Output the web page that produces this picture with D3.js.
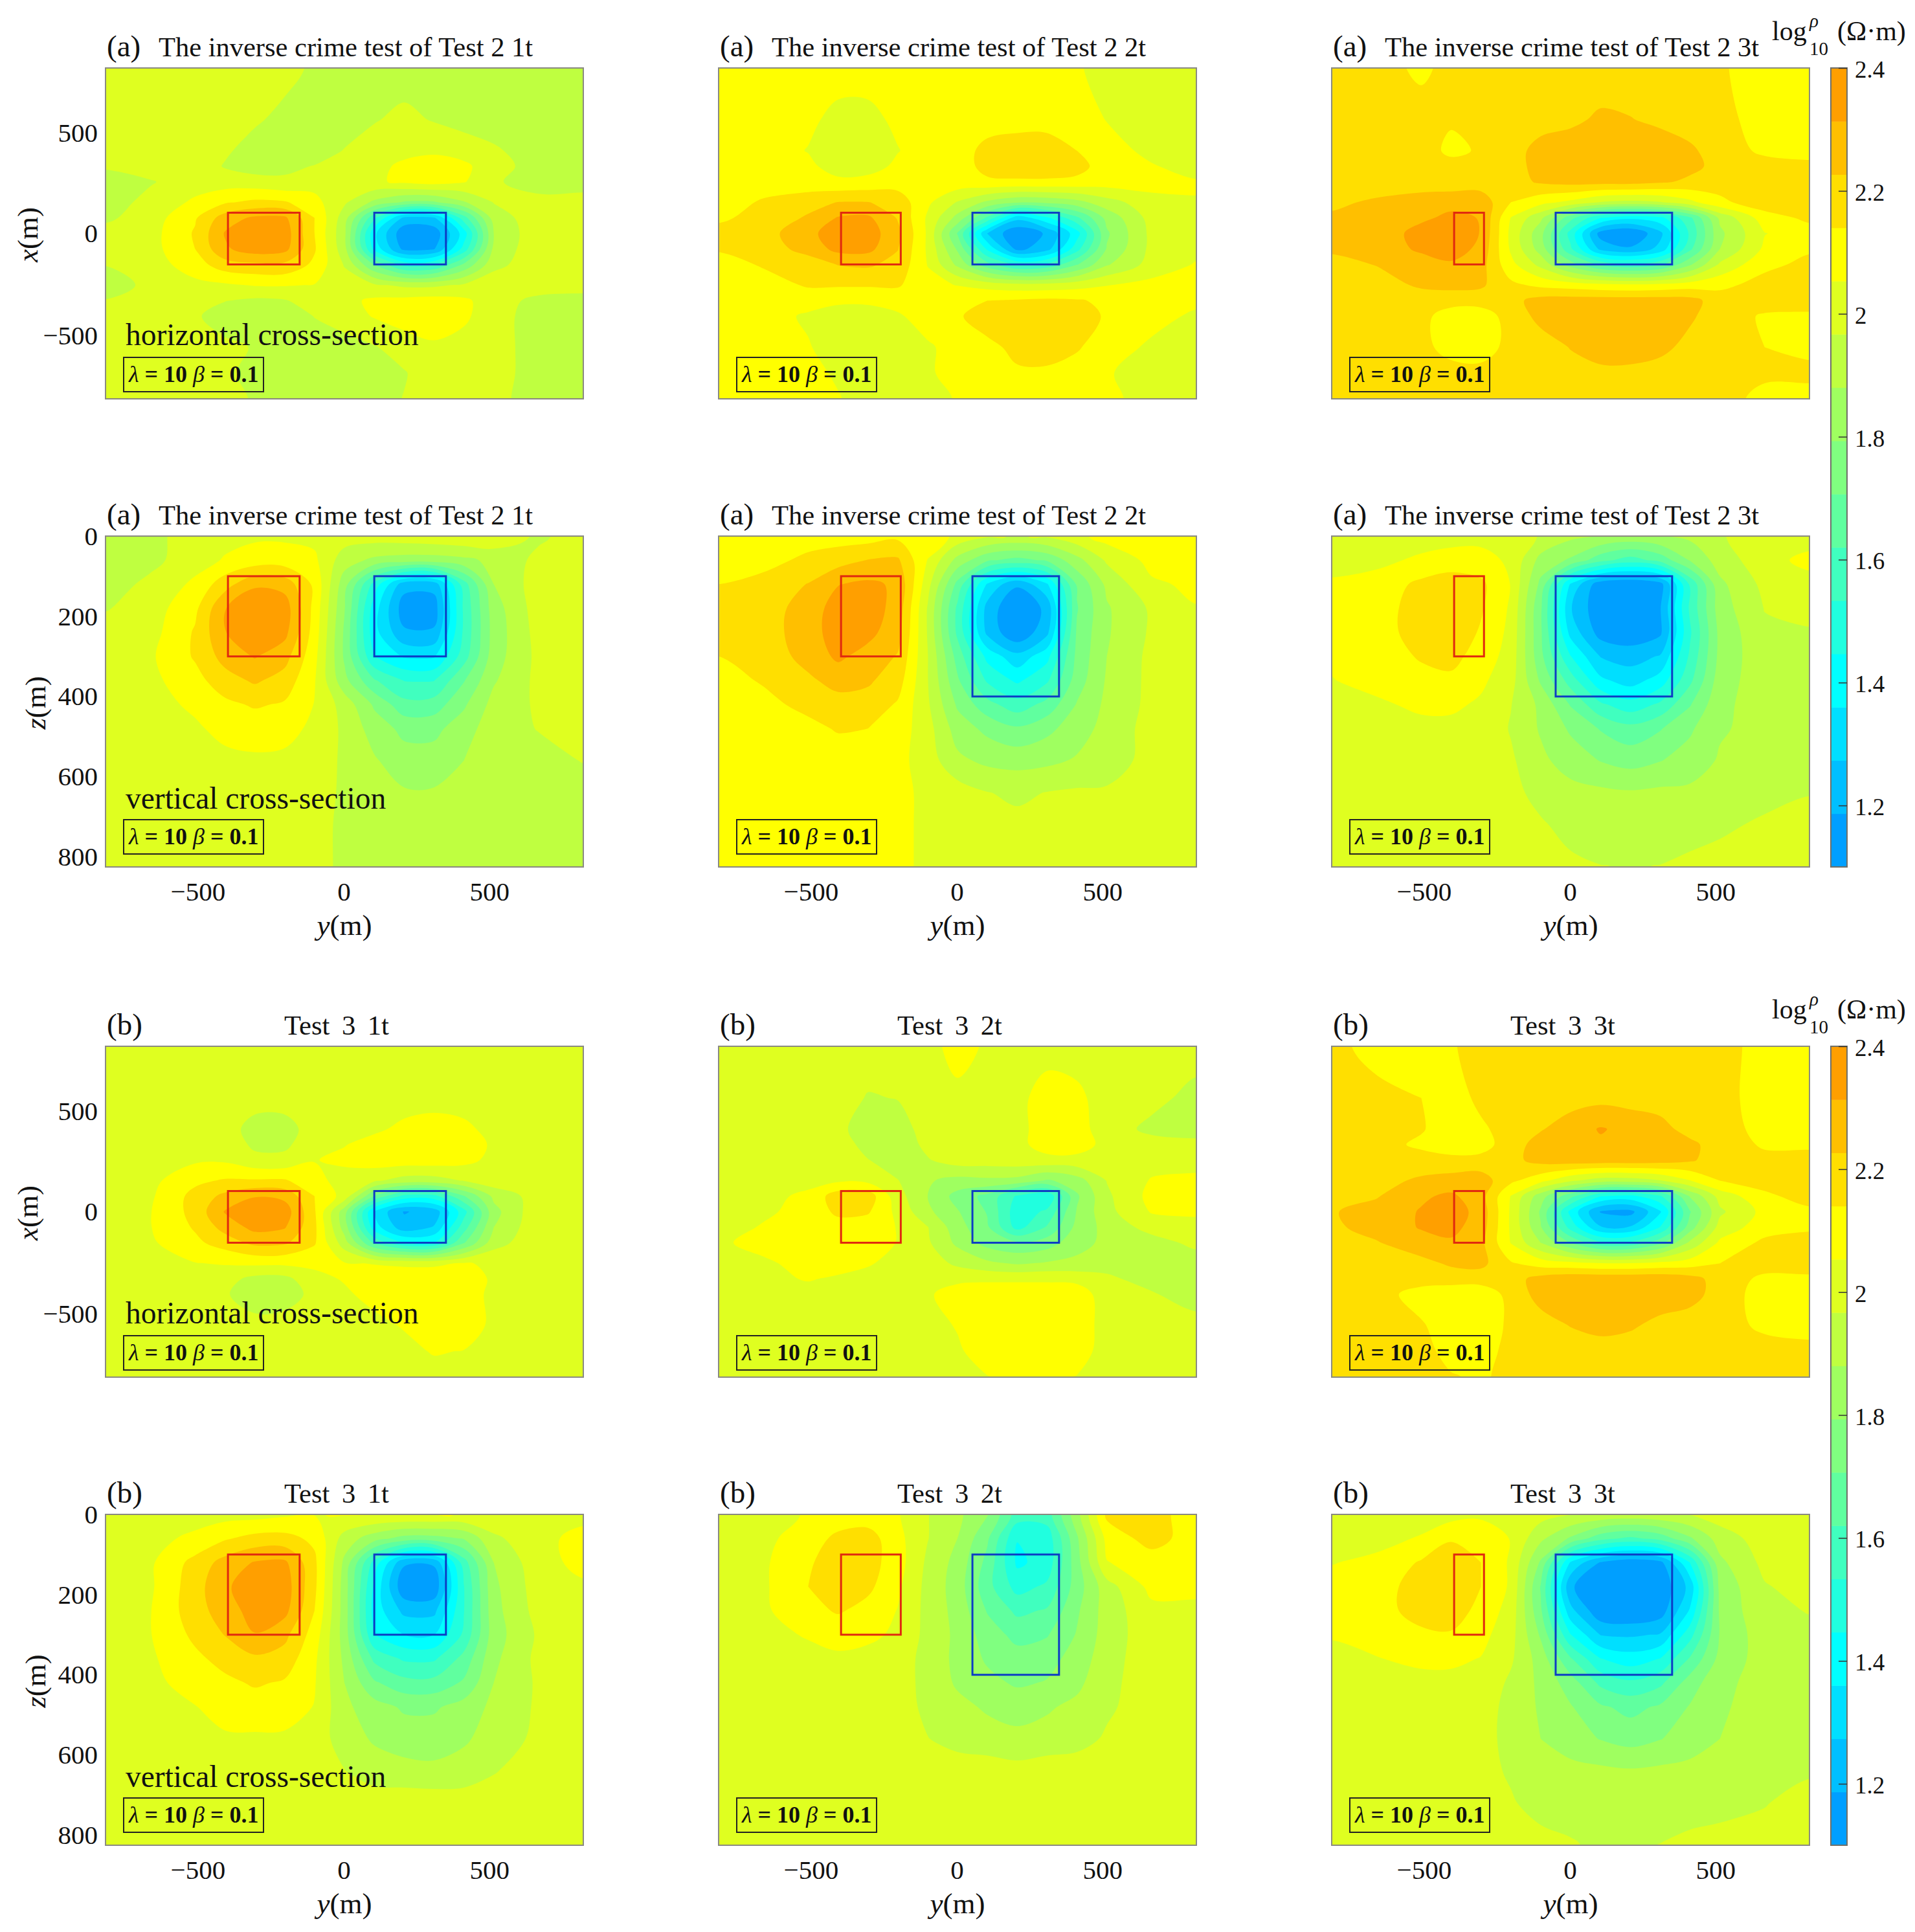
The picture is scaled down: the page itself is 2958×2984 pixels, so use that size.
<!DOCTYPE html>
<html>
<head>
<meta charset="utf-8">
<script src="https://cdn.jsdelivr.net/npm/d3@7"></script>
<style>
body { margin: 0; background: #fff; }
text { font-family: "Liberation Serif", serif; fill: #111; }
</style>
</head>
<body>
<svg id="fig" width="2958" height="2984"></svg>
<script>
// log10 rho, in hundredths, on a coarse y / x grid
var colY = [-800, -650, -500, -400, -300, -200, -100, 0, 100, 200, 300, 400, 500, 650, 800];
var rowX = [800, 550, 400, 325, 250, 150, 75, 0, -75, -150, -250, -325, -400, -550, -675, -800];
var rowZ = [0, 60, 120, 180, 240, 300, 360, 420, 480, 560, 640, 720, 825];

var levels = [1.1, 1.1867, 1.2733, 1.36, 1.4467, 1.5333, 1.62, 1.7067, 1.7933, 1.88, 1.9667, 2.0533, 2.14, 2.2267, 2.3133];
var bandColors = ["#009fff", "#00bfff", "#00dfff", "#00ffff", "#20ffdf", "#40ffbf", "#60ff9f", "#80ff80", "#9fff60", "#bfff40", "#dfff20", "#ffff00", "#ffdf00", "#ffbf00", "#ff9f00"];
var barTicks = [1.2, 1.4, 1.6, 1.8, 2, 2.2, 2.4];
var yTicks = [-500, 0, 500];
var xTicks = [-500, 0, 500];
var zTicks = [0, 200, 400, 600, 800];

// anomaly outlines per column (1t, 2t, 3t)
var redY = [[-390, -150], [-390, -190], [-390, -290]];
var blueY = [[100, 340], [50, 340], [-50, 340]];
var redZ = [[100, 300], [100, 300], [100, 300]];
var blueZ = [[100, 300], [100, 400], [100, 400]];
var rectX = [100, -150];

var test2_1t_h = [
[202,202,202,202,202,200,195,194,193,192,192,192,192,192,192],
[201,202,202,200,198,194,192,193,196,199,196,193,192,192,192],
[199,201,202,198,193,191,193,197,201,203,204,202,198,192,192],
[198,201,202,196,193,195,197,201,203,207,209,207,201,192,192],
[192,196,201,201,200,198,202,203,204,207,209,206,198,192,192],
[193,199,207,213,216,215,208,198,186,178,178,187,197,200,201],
[195,201,213,227,233,233,214,192,155,125,126,158,192,202,202],
[200,202,215,232,238,236,214,190,138,112,113,140,188,203,204],
[200,202,214,230,236,234,215,191,142,116,118,148,190,203,204],
[197,201,210,219,221,221,212,196,170,150,152,172,194,202,203],
[192,199,203,204,206,206,205,201,198,195,195,198,202,202,202],
[197,201,201,197,195,196,201,203,207,208,209,207,201,194,192],
[200,201,198,192,191,191,197,201,206,209,210,207,200,193,192],
[201,201,200,199,196,192,191,193,196,201,204,202,201,192,191],
[202,202,201,199,193,191,191,191,192,196,202,203,201,192,192],
[202,202,202,199,196,192,192,192,193,197,201,202,199,193,192]];

var test2_2t_h = [
[209,209,209,209,209,209,209,209,209,209,209,206,203,200,199],
[209,209,207,203,203,207,209,210,211,211,211,210,205,200,199],
[209,209,205,200,200,205,209,211,216,218,218,214,209,203,199],
[209,209,207,202,202,207,210,211,216,218,218,217,210,206,202],
[210,210,209,207,208,210,211,211,213,213,213,212,210,209,206],
[210,215,219,223,223,219,207,196,186,180,181,185,193,202,205],
[213,216,224,232,233,222,204,185,160,130,143,160,182,200,203],
[216,219,229,236,236,225,204,170,127,111,120,141,178,199,202],
[215,218,226,234,234,223,204,178,143,116,124,150,180,199,203],
[210,215,218,223,224,220,205,186,165,152,155,170,187,200,206],
[210,210,215,215,215,215,208,205,202,200,200,202,205,208,209],
[210,210,209,207,207,209,211,213,214,215,216,215,212,208,207],
[209,209,204,201,201,204,210,213,218,219,219,218,213,208,204],
[209,209,206,201,200,201,204,209,212,216,219,215,209,204,200],
[209,209,208,204,201,201,204,209,211,213,212,210,206,202,199],
[209,209,209,206,201,201,202,206,209,210,210,209,208,201,199]];

var test2_3t_h = [
[218,218,212,217,218,218,218,218,218,218,218,218,215,210,210],
[218,218,218,215,218,219,220,221,224,223,221,219,217,210,210],
[218,218,218,212,215,220,225,227,228,228,227,224,219,212,211],
[218,218,218,217,218,220,225,228,228,228,227,225,220,218,216],
[218,218,218,217,218,219,224,226,226,226,224,221,218,216,215],
[221,224,227,229,228,214,208,203,196,194,196,203,212,219,220],
[224,226,230,233,231,205,190,165,145,138,142,160,190,210,216],
[225,227,234,236,231,203,182,150,115,110,125,155,186,205,210],
[224,226,233,236,229,204,184,155,125,120,130,160,188,207,213],
[220,223,227,230,226,208,194,175,160,155,160,178,198,212,216],
[218,219,224,225,224,216,212,210,208,207,208,210,212,217,218],
[218,218,218,218,218,220,226,227,227,227,227,226,218,218,219],
[218,218,217,209,209,218,225,226,227,228,227,224,218,213,212],
[218,218,217,210,208,218,219,223,228,228,225,220,218,214,212],
[218,218,218,218,218,218,219,220,220,220,219,218,218,216,216],
[218,218,218,218,214,218,218,218,218,218,218,218,218,211,211]];

var test2_1t_v = [
[192,194,201,203,204,204,203,201,201,202,203,204,204,195,201],
[192,194,202,206,209,209,207,192,186,184,184,186,190,199,203],
[192,199,207,219,230,228,212,183,150,122,122,158,188,201,203],
[196,201,212,231,238,236,211,180,140,114,114,155,184,201,203],
[201,202,215,231,238,234,210,178,139,120,120,155,183,200,203],
[202,204,215,226,232,226,208,178,145,135,135,158,184,199,203],
[202,203,211,219,224,219,206,182,163,153,153,170,187,199,202],
[202,202,207,212,215,213,205,193,178,165,166,178,191,198,202],
[202,202,204,208,209,209,203,195,184,177,177,184,193,197,201],
[202,202,202,203,204,203,202,195,189,183,183,188,193,194,197],
[202,202,202,202,202,202,201,195,192,189,189,190,192,193,193],
[202,202,202,202,202,202,201,194,192,191,191,192,192,192,192],
[202,202,202,202,202,202,201,194,192,192,192,192,192,192,192]];

var test2_2t_v = [
[210,210,210,210,210,212,212,203,198,196,198,203,209,210,210],
[210,211,216,219,223,224,205,185,172,168,172,185,198,208,209],
[214,217,223,231,233,230,200,168,135,120,135,172,190,204,207],
[215,218,227,235,236,228,196,160,124,110,121,170,187,198,205],
[215,218,228,235,234,226,196,160,125,111,125,172,187,198,204],
[214,217,226,233,228,222,197,167,142,130,142,173,188,199,203],
[210,215,221,226,224,218,197,172,152,143,152,175,189,199,202],
[208,211,217,219,219,213,198,178,165,157,165,180,190,199,202],
[207,208,211,215,214,210,200,184,177,172,177,184,191,200,202],
[208,208,208,208,208,208,201,190,186,185,186,189,192,200,202],
[208,208,208,208,208,208,203,201,197,195,197,198,198,200,202],
[208,208,208,208,208,208,203,201,200,199,199,201,201,202,202],
[208,208,208,208,208,208,203,203,203,203,203,203,203,203,203]];

var test2_3t_v = [
[201,201,201,202,203,202,196,190,188,186,188,190,196,201,201],
[201,203,207,209,208,204,185,178,165,158,165,180,192,202,208],
[207,209,216,219,216,205,177,135,113,110,115,155,186,199,202],
[208,210,218,220,215,204,172,128,112,111,118,155,184,197,199],
[208,210,218,220,213,203,172,133,115,112,117,152,182,195,196],
[207,209,215,217,210,202,173,145,127,124,128,155,182,194,194],
[205,208,211,212,207,200,178,158,138,132,140,160,184,193,193],
[203,204,207,207,204,197,186,170,155,148,155,170,186,192,192],
[202,202,203,203,203,196,187,178,170,165,170,178,187,191,192],
[202,202,202,202,202,198,190,184,179,176,179,183,189,191,193],
[202,202,202,202,202,200,193,191,190,189,190,190,191,192,196],
[202,202,202,202,202,201,198,193,191,191,191,191,194,199,203],
[202,202,202,202,202,202,202,199,197,196,197,200,202,202,202]];

var test3_1t_h = [
[202,202,202,202,202,202,202,202,202,202,202,202,202,202,202],
[202,202,202,202,202,202,202,202,202,202,202,202,202,202,202],
[202,202,202,202,192,192,202,203,204,207,209,207,203,202,202],
[202,202,203,202,195,195,202,205,208,210,210,210,204,202,202],
[202,203,204,204,199,199,205,207,210,210,210,208,203,202,202],
[202,203,212,215,215,215,208,202,198,193,193,197,202,203,202],
[202,204,217,225,231,229,214,202,170,150,150,170,190,201,203],
[202,205,217,232,236,236,215,183,135,118,122,150,185,203,203],
[202,205,215,226,234,232,216,184,140,122,128,158,188,203,203],
[202,204,212,218,225,224,215,192,160,145,145,170,193,203,203],
[202,202,205,206,207,207,207,206,205,204,204,206,204,202,202],
[202,202,203,200,194,194,203,206,209,210,210,210,204,202,202],
[202,202,202,198,190,191,200,204,208,210,210,210,203,202,202],
[202,202,202,201,201,202,202,202,203,206,211,211,203,202,202],
[202,202,202,202,202,202,202,202,202,203,206,205,202,202,202],
[202,202,202,202,202,202,202,202,202,202,202,202,202,202,202]];

var test3_2t_h = [
[202,202,202,202,202,202,202,209,204,202,202,202,202,202,202],
[202,202,202,201,196,197,202,203,203,203,209,207,202,200,193],
[202,202,202,199,192,193,200,202,202,203,209,208,202,194,190],
[202,202,202,202,193,191,199,202,202,203,209,209,203,201,201],
[202,202,202,202,197,192,196,201,201,202,203,203,202,202,201],
[202,202,203,204,203,197,189,185,186,185,178,184,197,206,208],
[202,203,207,219,219,200,188,176,168,152,146,178,195,208,209],
[202,204,208,216,215,203,190,180,170,148,155,180,194,206,207],
[202,206,208,210,209,205,197,183,172,150,163,182,191,200,202],
[204,208,210,210,209,205,198,186,176,172,175,185,190,193,199],
[202,204,208,209,206,203,201,195,190,187,189,190,192,191,192],
[202,203,206,204,203,203,204,203,204,204,204,203,199,192,190],
[202,202,202,202,202,202,204,210,210,210,210,210,201,198,190],
[202,202,202,202,202,202,202,206,210,211,211,210,202,202,202],
[202,202,202,202,202,202,202,204,210,211,211,209,202,202,202],
[202,202,202,202,202,202,202,202,205,208,208,205,202,202,202]];

var test3_3t_h = [
[218,209,209,213,218,218,218,218,218,218,218,218,218,210,210],
[218,218,214,208,217,218,218,219,220,219,218,218,218,209,209],
[218,218,215,208,212,219,222,227,232,229,226,219,218,211,209],
[218,218,212,208,210,219,226,228,230,229,228,225,218,213,213],
[218,218,218,217,217,220,226,228,228,228,227,224,218,216,216],
[218,220,224,226,227,216,208,198,192,192,196,205,214,218,219],
[219,222,230,233,226,205,183,165,145,142,152,180,200,212,218],
[222,226,232,236,228,204,178,142,118,116,135,170,195,208,212],
[221,226,232,234,227,204,180,150,128,128,145,175,200,210,212],
[218,222,228,230,225,205,188,170,155,155,168,190,207,216,219],
[218,218,220,224,225,215,210,208,206,206,208,210,214,218,219],
[218,218,218,218,218,219,226,229,229,229,229,226,219,212,212],
[218,218,210,208,208,217,226,228,228,228,228,226,219,210,209],
[218,218,215,209,208,216,219,223,226,224,220,218,218,212,209],
[218,218,218,210,210,217,218,218,218,218,218,218,218,218,218],
[218,218,218,215,212,218,218,218,218,218,218,218,218,218,218]];

var test3_1t_v = [
[202,202,202,202,202,204,205,206,206,206,206,205,203,202,202],
[202,203,207,213,217,217,212,193,183,176,176,180,195,202,209],
[202,204,217,226,232,233,216,186,150,120,120,158,188,202,208],
[202,204,219,230,236,236,216,184,143,112,112,153,186,201,204],
[202,205,219,227,235,234,214,184,141,125,125,153,185,200,202],
[202,205,216,223,231,225,210,184,145,136,136,155,184,198,201],
[202,204,212,217,221,219,207,186,160,152,152,165,186,199,202],
[202,203,209,212,215,213,206,188,172,165,165,172,188,198,202],
[202,202,205,209,210,209,205,190,183,178,178,183,190,198,202],
[202,202,202,204,204,204,202,192,187,184,184,187,191,199,202],
[202,202,202,202,202,202,202,197,192,191,190,191,196,202,202],
[202,202,202,202,202,202,202,202,202,202,202,202,202,202,202],
[203,203,203,203,203,203,203,203,203,203,203,203,203,203,203]];

var test3_2t_v = [
[202,202,206,209,209,206,197,190,180,158,158,185,216,217,210],
[202,203,210,216,218,208,197,188,172,145,148,178,208,218,209],
[202,204,213,218,218,209,195,185,168,143,148,176,205,209,208],
[202,204,214,219,216,207,194,184,165,150,155,175,193,208,208],
[202,204,211,215,211,205,194,185,170,160,163,178,192,203,203],
[202,203,206,208,207,204,194,186,175,168,170,180,192,202,202],
[202,202,203,204,203,202,193,186,178,174,176,183,193,202,202],
[202,202,202,202,202,202,193,187,182,178,180,186,194,202,202],
[202,202,202,202,202,202,194,190,187,185,187,190,195,202,202],
[202,202,202,202,202,202,197,193,191,190,191,193,198,202,202],
[202,202,202,202,202,202,202,202,202,200,202,202,202,202,202],
[202,202,202,202,202,202,202,202,202,202,202,202,202,202,202],
[202,202,202,202,202,202,202,202,202,202,202,202,202,202,202]];

var test3_3t_v = [
[201,202,202,202,204,202,200,197,195,194,195,197,201,202,202],
[202,203,206,213,210,205,190,178,165,160,165,178,192,201,202],
[205,207,215,220,214,204,178,135,118,112,116,145,186,199,202],
[208,210,218,221,214,204,170,120,110,110,112,130,182,196,200],
[208,210,218,219,211,202,172,130,112,110,114,137,181,195,197],
[206,208,212,213,208,200,178,145,127,126,128,150,180,193,195],
[203,205,207,207,205,198,184,163,145,140,145,163,182,192,194],
[202,202,203,203,203,195,186,175,160,155,160,175,186,191,193],
[202,202,202,202,202,193,187,180,172,168,172,180,187,191,192],
[202,202,202,202,201,193,188,183,179,176,179,183,188,191,192],
[202,202,202,202,201,195,191,191,190,189,190,191,191,192,195],
[202,202,202,202,202,198,192,191,190,189,190,191,192,196,202],
[202,202,202,202,202,202,201,198,194,194,197,200,202,202,202]];

var colLeft = [163, 1110, 2057];
var rowTop = [105, 828, 1616, 2339];
var panelW = 738, panelH = 511;
var svg = d3.select("#fig");
var fs = 41;

function padGrid(grid) {
	var rows = grid.map(function (r) { return [r[0]].concat(r, [r[r.length - 1]]); });
	return [rows[0]].concat(rows, [rows[rows.length - 1]]);
}

function plotContours(g, grid, xs, ys, colCoords, rowCoords) {
	var padded = padGrid(grid);
	var n = padded.length, m = padded[0].length;
	var flat = d3.merge(padded).map(function (v) { return v / 100; });
	var cols = [colCoords[0] - 200].concat(colCoords, [colCoords[colCoords.length - 1] + 200]);
	var rowStep = rowCoords[1] > rowCoords[0] ? 200 : -200;
	var rows = [rowCoords[0] - rowStep].concat(rowCoords, [rowCoords[rowCoords.length - 1] + rowStep]);
	var colIdx = d3.scaleLinear().domain(d3.range(m)).range(cols);
	var rowIdx = d3.scaleLinear().domain(d3.range(n)).range(rows);
	var line = d3.line()
		.x(function (p) { return xs(colIdx(p[0] - 0.5)); })
		.y(function (p) { return ys(rowIdx(p[1] - 0.5)); })
		.curve(d3.curveCatmullRomClosed.alpha(0.5));
	var shapes = d3.contours().size([m, n]).thresholds(levels)(flat);
	g.selectAll("path.band")
		.data(shapes)
		.join("path")
		.attr("class", "band")
		.attr("fill-rule", "evenodd")
		.attr("fill", function (d, i) { return bandColors[i]; })
		.attr("d", function (d) {
			return d.coordinates.map(function (poly) {
				return poly.map(function (ring) { return line(ring.slice(0, -1)); }).join("");
			}).join("");
		});
}

function plotPanel(row, col, grid) {
	var left = colLeft[col], top = rowTop[row];
	var vertical = row % 2 == 1;
	var xs = d3.scaleLinear().domain([-800, 800]).range([left, left + panelW]);
	var ys = vertical
		? d3.scaleLinear().domain([0, 825]).range([top, top + panelH])
		: d3.scaleLinear().domain([800, -800]).range([top, top + panelH]);
	var id = "clip" + row + col;
	svg.append("clipPath").attr("id", id).append("rect")
		.attr("x", left).attr("y", top).attr("width", panelW).attr("height", panelH);
	var g = svg.append("g").attr("clip-path", "url(#" + id + ")");
	plotContours(g, grid, xs, ys, colY, vertical ? rowZ : rowX);

	// anomaly outlines
	var redV = vertical ? redZ[col] : rectX;
	var blueV = vertical ? blueZ[col] : rectX;
	[[redY[col], redV, "#e0280f"], [blueY[col], blueV, "#0c3cc4"]].forEach(function (r) {
		svg.append("rect")
			.attr("x", xs(r[0][0]))
			.attr("y", ys(r[1][0]))
			.attr("width", xs(r[0][1]) - xs(r[0][0]))
			.attr("height", ys(r[1][1]) - ys(r[1][0]))
			.attr("fill", "none").attr("stroke", r[2]).attr("stroke-width", 3);
	});

	svg.append("rect").attr("x", left).attr("y", top).attr("width", panelW).attr("height", panelH)
		.attr("fill", "none").attr("stroke", "#8a8a80").attr("stroke-width", 2);

	// axes
	if (col == 0) {
		var ay = svg.append("g").attr("transform", "translate(" + left + ",0)")
			.call(d3.axisLeft(ys).tickValues(vertical ? zTicks : xTicks).tickSize(0).tickPadding(12));
		ay.select(".domain").remove();
		ay.selectAll("text").attr("font-size", fs).attr("font-family", "Liberation Serif").attr("fill", "#111");
		if (!vertical) {
			ay.selectAll("text").attr("y", function (d) { return d > 0 ? 5 : d < 0 ? -2 : 0; });
		}
		var yl = svg.append("text")
			.attr("transform", "translate(" + (vertical ? 70 : 58) + "," + (top + panelH / 2 + 2) + ") rotate(-90)")
			.attr("text-anchor", "middle").attr("font-size", 45);
		yl.append("tspan").attr("font-style", "italic").text(vertical ? "z" : "x");
		yl.append("tspan").text("(m)");
	}
	if (vertical) {
		var ax = svg.append("g").attr("transform", "translate(0," + (top + panelH) + ")")
			.call(d3.axisBottom(xs).tickValues(yTicks).tickSize(0).tickPadding(23));
		ax.select(".domain").remove();
		ax.selectAll("text").attr("font-size", fs).attr("font-family", "Liberation Serif").attr("fill", "#111")
			.attr("x", function (d) { return d > 0 ? -7 : d < 0 ? 4 : -1; });
		var xl = svg.append("text")
			.attr("x", left + panelW / 2).attr("y", top + panelH + 105)
			.attr("text-anchor", "middle").attr("font-size", 45);
		xl.append("tspan").attr("font-style", "italic").text("y");
		xl.append("tspan").text("(m)");
	}

	// panel titles
	var first = row < 2;
	svg.append("text").attr("x", left + 2).attr("y", top - 18).attr("font-size", 47)
		.text(first ? "(a)" : "(b)");
	if (first) {
		svg.append("text").attr("x", left + 82).attr("y", top - 18).attr("font-size", 42.5)
			.text("The inverse crime test of Test 2 " + (col + 1) + "t");
	} else {
		svg.append("text").attr("x", left + panelW / 2 - 12).attr("y", top - 18).attr("font-size", 42.5)
			.attr("word-spacing", 8).attr("text-anchor", "middle").text("Test 3 " + (col + 1) + "t");
	}

	// regularisation box
	var boxTop = top + (vertical ? 438 : 447);
	svg.append("rect").attr("x", left + 28).attr("y", boxTop).attr("width", 216).attr("height", 53)
		.attr("fill", "none").attr("stroke", "#222").attr("stroke-width", 2);
	var bt = svg.append("text").attr("x", left + 36).attr("y", boxTop + 38).attr("font-size", 36).attr("font-weight", "bold");
	bt.append("tspan").attr("font-style", "italic").attr("font-weight", "normal").text("\u03bb");
	bt.append("tspan").text(" = 10 ");
	bt.append("tspan").attr("font-style", "italic").attr("font-weight", "normal").text("\u03b2");
	bt.append("tspan").text(" = 0.1");

	if (col == 0) {
		svg.append("text").attr("x", left + 31).attr("y", top + (vertical ? 421 : 428)).attr("font-size", 47.5)
			.text(vertical ? "vertical cross-section" : "horizontal cross-section");
	}
}

function plotColorbar(top) {
	var h = rowTop[1] + panelH - rowTop[0];
	var bar = d3.scaleLinear().domain([1.1, 2.4]).range([top + h, top]);
	var x0 = 2828, w = 25;
	var edges = levels.concat([2.4]);
	svg.append("g").selectAll("rect")
		.data(levels)
		.join("rect")
		.attr("x", x0).attr("width", w)
		.attr("y", function (d, i) { return bar(edges[i + 1]); })
		.attr("height", function (d, i) { return bar(edges[i]) - bar(edges[i + 1]) + 0.5; })
		.attr("fill", function (d, i) { return bandColors[i]; });
	svg.append("rect").attr("x", x0).attr("y", top).attr("width", w).attr("height", h)
		.attr("fill", "none").attr("stroke", "#6f6f68").attr("stroke-width", 2);
	var ticks = svg.append("g").attr("transform", "translate(" + (x0 + w) + ",0)")
		.call(d3.axisLeft(bar).tickValues(barTicks).tickSize(13).tickFormat(function () { return ""; }));
	ticks.select(".domain").remove();
	ticks.selectAll("line").attr("stroke", "#333").attr("stroke-width", 1.5);
	svg.append("g").selectAll("text")
		.data(barTicks)
		.join("text")
		.attr("x", 2865)
		.attr("y", function (d) { return bar(d) + 15; })
		.attr("font-size", 37).attr("fill", "#222")
		.text(function (d) { return d; });

	var base = top - 43;
	svg.append("text").attr("x", 2737).attr("y", base).attr("font-size", 42).text("log");
	svg.append("text").attr("x", 2795).attr("y", base + 23).attr("font-size", 29).text("10");
	svg.append("text").attr("x", 2795).attr("y", base - 20).attr("font-size", 29).attr("font-style", "italic").text("\u03c1");
	svg.append("text").attr("x", 2838).attr("y", base).attr("font-size", 42).text("(\u03a9\u00b7m)");
}

var panelGrids = [
	[test2_1t_h, test2_2t_h, test2_3t_h],
	[test2_1t_v, test2_2t_v, test2_3t_v],
	[test3_1t_h, test3_2t_h, test3_3t_h],
	[test3_1t_v, test3_2t_v, test3_3t_v]
];
panelGrids.forEach(function (rowGrids, r) {
	rowGrids.forEach(function (grid, c) { plotPanel(r, c, grid); });
});
plotColorbar(rowTop[0]);
plotColorbar(rowTop[2]);
</script>
</body>
</html>
